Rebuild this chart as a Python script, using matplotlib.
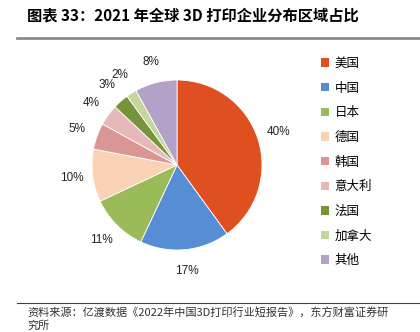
import matplotlib
matplotlib.use("Agg")
import matplotlib.pyplot as plt
from matplotlib.patches import Patch
from matplotlib.lines import Line2D

regions = ["美国", "中国", "日本", "德国", "韩国", "意大利", "法国", "加拿大", "其他"]
shares = [40, 17, 11, 10, 5, 4, 3, 2, 8]
colors = ["#E04F1F", "#558ED5", "#9BBB59", "#FAD3B7", "#D99694",
          "#E6B9B8", "#77933C", "#C3D69B", "#B3A2C7"]

title = "图表 33：2021 年全球 3D 打印企业分布区域占比"
source_1 = "资料来源：亿渡数据《2022年中国3D打印行业短报告》，东方财富证券研"
source_2 = "究所"

cjk = ["Noto Sans CJK SC", "DejaVu Sans"]
plt.rcParams["font.family"] = cjk

W, H = 420, 332
fig = plt.figure(figsize=(W / 100, H / 100), dpi=100)

# pie axes: centre (177,165) px, radius 85 px
cx, cy, r = 177, 165, 85
half = 100
ax = fig.add_axes([(cx - half) / W, 1 - (cy + half) / H, 2 * half / W, 2 * half / H])
wedges, _, autotexts = ax.pie(shares, colors=colors, startangle=90, counterclock=False,
                              autopct=lambda p: "{:.0f}%".format(p), pctdistance=1.25,
                              wedgeprops=dict(linewidth=0.6, edgecolor="white"),
                              textprops=dict(family="Liberation Sans", fontsize=8.5,
                                             color="#222222"))
ax.set_xlim(-half / r, half / r)
ax.set_ylim(-half / r, half / r)
ax.set_aspect("equal")
ax.axis("off")

handles = [Patch(facecolor=c, edgecolor="none") for c in colors]
fig.legend(handles, regions, loc="upper left", bbox_to_anchor=(321 / W, 1 - 57 / H),
           frameon=False, fontsize=9, handlelength=0.65, handleheight=0.65,
           handletextpad=0.45, labelspacing=0.93, borderaxespad=0, borderpad=0)

# title and rules
fig.text(27 / W, 1 - 15 / H, title, fontsize=11, fontweight="bold", va="center", ha="left")
fig.add_artist(Line2D([17 / W, 1], [1 - 38 / H, 1 - 38 / H], color="#8C8C8C", linewidth=2))
fig.add_artist(Line2D([17 / W, 1], [1 - 303 / H, 1 - 303 / H], color="#404040", linewidth=0.8))

fig.text(27 / W, 1 - 313 / H, source_1, fontsize=8, va="center", ha="left", color="#333333")
fig.text(27 / W, 1 - 326 / H, source_2, fontsize=8, va="center", ha="left", color="#333333")

fig.savefig("out.png", dpi=100)
